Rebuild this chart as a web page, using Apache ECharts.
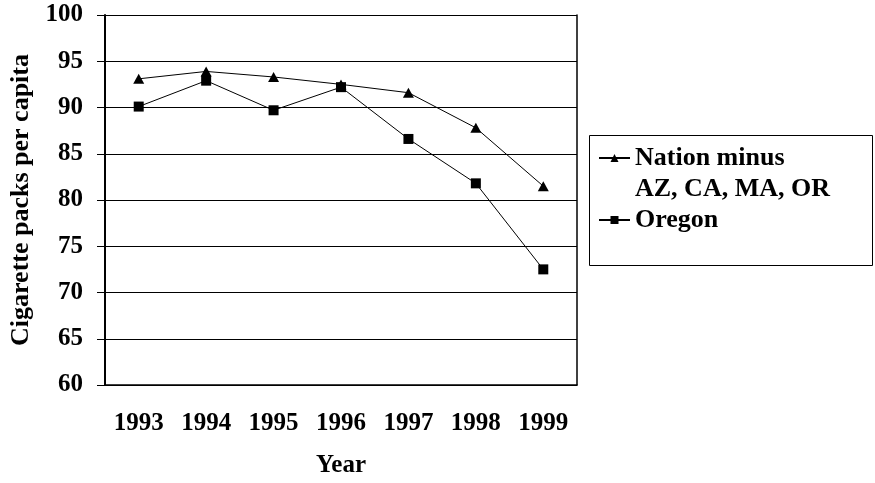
<!DOCTYPE html>
<html>
<head>
<meta charset="utf-8">
<script src="https://cdn.jsdelivr.net/npm/echarts@6/dist/echarts.min.js"></script>
<style>
html,body{margin:0;padding:0;background:#fff;}
#chart{width:875px;height:483px;}
</style>
</head>
<body>
<div id="chart"></div>
<script>
const years = ['1993','1994','1995','1996','1997','1998','1999'];
const nationMinus = [93.1, 93.9, 93.3, 92.5, 91.6, 87.8, 81.5];
const oregon = [90.1, 92.9, 89.7, 92.2, 86.6, 81.8, 72.5];
const yTicks = {min: 60, max: 100, interval: 5};
const seriesNames = ['Nation minus\nAZ, CA, MA, OR', 'Oregon'];
const axisTitles = {x: 'Year', y: 'Cigarette packs per capita'};

const FONT = 'Liberation Serif';
const chart = echarts.init(document.getElementById('chart'), null, {renderer: 'canvas'});
const txt = {fontFamily: FONT, fontWeight: 'bold', fontSize: 25, color: '#000'};

chart.setOption({
  animation: false,
  backgroundColor: '#fff',
  grid: {left: 105, right: 298, top: 15, bottom: 97, containLabel: false},
  xAxis: {
    type: 'category',
    data: years,
    boundaryGap: true,
    axisLine: {lineStyle: {color: '#000', width: 1.5}},
    axisTick: {show: false},
    axisLabel: Object.assign({margin: 26}, txt),
    name: axisTitles.x,
    nameLocation: 'middle',
    nameGap: 68,
    nameTextStyle: txt,
    splitLine: {show: false}
  },
  yAxis: [{
    type: 'value',
    min: yTicks.min, max: yTicks.max, interval: yTicks.interval,
    axisLine: {show: true, lineStyle: {color: '#000', width: 2}},
    axisTick: {show: true, inside: false, length: 8, lineStyle: {color: '#000'}},
    axisLabel: Object.assign({margin: 22}, txt),
    splitLine: {show: true, lineStyle: {color: '#000', width: 1}},
    name: axisTitles.y,
    nameLocation: 'middle',
    nameGap: 71,
    nameTextStyle: Object.assign({}, txt, {fontSize: 26})
  }, {
    type: 'value',
    position: 'right',
    min: yTicks.min, max: yTicks.max, interval: yTicks.interval,
    axisLine: {show: true, lineStyle: {color: '#000', width: 1.5}},
    axisTick: {show: false},
    axisLabel: {show: false},
    splitLine: {show: false}
  }],
  legend: {
    orient: 'vertical',
    left: 598,
    top: 111.5,
    itemWidth: 31,
    itemHeight: 10,
    itemGap: 0,
    padding: 0,
    selectedMode: false,
    textStyle: Object.assign({}, txt, {fontSize: 26, lineHeight: 31}),
    formatter: function (name) { return name === seriesNames[0] ? '\n' + name : name; },
    data: seriesNames
  },
  graphic: [{
    type: 'rect',
    shape: {x: 589.5, y: 135.5, width: 283, height: 130},
    style: {fill: 'none', stroke: '#000', lineWidth: 1},
    silent: true
  }],
  series: [{
    name: seriesNames[0],
    type: 'line',
    data: nationMinus,
    symbol: 'triangle',
    symbolSize: [11, 10],
    lineStyle: {color: '#000', width: 1},
    itemStyle: {color: '#000'}
  }, {
    name: seriesNames[1],
    type: 'line',
    data: oregon,
    symbol: 'rect',
    symbolSize: 10,
    lineStyle: {color: '#000', width: 1},
    itemStyle: {color: '#000'}
  }]
});
</script>
</body>
</html>
